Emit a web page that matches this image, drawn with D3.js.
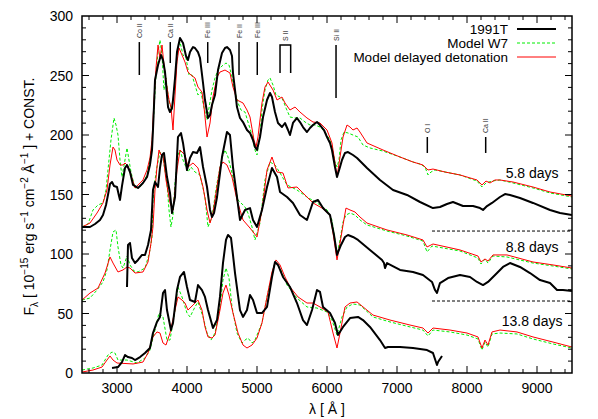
<!DOCTYPE html>
<html><head><meta charset="utf-8">
<script src="https://cdn.jsdelivr.net/npm/d3@7"></script>
<style>
body{margin:0;background:#fff;}
svg{font-family:"Liberation Sans",Arial,Helvetica,sans-serif;}
</style></head>
<body><svg id="c" width="598" height="419"></svg>
<script>
// ---- data: [wavelength (Å), flux + const] ----
const obs58 = [[2500,122.7],[2614,122.7],[2686,125.2],[2757,128.6],[2800,132.8],[2843,141.2],[2871,149.6],[2900,158.8],[2929,160.5],[2957,157.1],[3000,156.3],[3029,148.7],[3043,145.4],[3071,157.1],[3114,172.3],[3143,174.8],[3186,168.9],[3229,158.0],[3300,155.5],[3371,159.7],[3429,164.7],[3471,174.8],[3500,187.4],[3514,204.2],[3529,225.2],[3543,246.2],[3586,258.8],[3629,267.2],[3657,263.0],[3686,252.9],[3714,233.6],[3729,223.5],[3757,219.3],[3786,222.7],[3800,229.4],[3829,247.9],[3857,269.7],[3900,281.5],[3943,277.3],[3986,266.4],[4014,263.0],[4043,269.7],[4086,273.9],[4114,273.1],[4157,269.7],[4186,264.7],[4229,243.7],[4257,229.4],[4300,214.3],[4329,216.8],[4357,225.2],[4400,233.6],[4443,254.6],[4500,268.9],[4543,273.1],[4571,273.9],[4614,271.4],[4643,266.4],[4657,252.1],[4686,237.8],[4714,223.5],[4757,214.3],[4800,210.9],[4857,204.2],[4900,201.7],[4943,195.8],[4971,189.9],[5000,187.4],[5043,198.3],[5086,215.1],[5143,229.4],[5186,235.3],[5214,231.9],[5257,219.3],[5300,210.1],[5357,206.7],[5400,210.1],[5443,204.2],[5471,200.0],[5514,210.1],[5571,214.3],[5614,210.9],[5657,206.7],[5714,202.5],[5757,205.9],[5800,208.4],[5857,210.9],[5900,208.4],[5957,204.2],[6000,198.3],[6043,193.3],[6071,187.4],[6114,173.1],[6143,164.7],[6186,173.1],[6214,179.0],[6257,184.9],[6300,185.7],[6371,183.2],[6429,180.7],[6571,172.3],[6757,162.2],[6943,153.8],[7143,149.6],[7329,143.7],[7514,138.6],[7614,139.5],[7714,142.0],[7800,143.7],[7943,140.3],[8086,140.3],[8186,138.6],[8229,137.0],[8286,140.3],[8357,142.9],[8471,147.9],[8543,150.4],[8614,149.6],[8757,147.1],[8943,142.9],[9186,137.0],[9329,134.4],[9500,132.8]];
const w7_58 = [[2500,122.7],[2586,125.2],[2657,137.0],[2729,141.2],[2800,142.9],[2843,153.8],[2871,170.6],[2914,195.8],[2957,214.3],[2986,208.4],[3014,200.0],[3043,179.0],[3071,164.7],[3114,179.0],[3143,189.1],[3171,179.0],[3200,168.9],[3257,155.5],[3329,156.3],[3371,159.7],[3429,166.4],[3471,179.0],[3500,191.6],[3529,221.0],[3557,250.4],[3586,269.7],[3614,279.8],[3643,267.2],[3671,237.8],[3700,247.9],[3729,233.6],[3757,225.2],[3786,221.0],[3814,236.1],[3843,254.6],[3871,273.1],[3900,278.1],[3943,267.2],[3986,264.7],[4029,250.4],[4071,250.4],[4114,242.0],[4157,233.6],[4200,236.1],[4243,222.7],[4286,212.6],[4314,222.7],[4357,237.8],[4400,247.9],[4443,254.6],[4500,258.0],[4557,260.5],[4600,258.8],[4643,248.7],[4686,236.1],[4729,226.9],[4771,221.0],[4829,219.3],[4871,210.9],[4929,200.0],[4971,187.4],[5000,183.2],[5043,200.0],[5071,221.0],[5114,237.8],[5157,246.2],[5186,247.9],[5229,242.0],[5271,233.6],[5329,231.9],[5371,229.4],[5414,222.7],[5471,215.1],[5543,214.3],[5614,214.3],[5686,210.9],[5757,208.4],[5829,208.4],[5900,206.7],[5971,202.5],[6043,195.8],[6086,184.9],[6114,177.3],[6143,173.1],[6171,179.0],[6200,195.8],[6243,202.5],[6300,201.7],[6371,200.0],[6443,198.3],[6514,191.6],[6614,189.1],[6800,186.5],[7043,181.5],[7229,177.3],[7329,175.6],[7400,173.1],[7443,166.4],[7486,168.9],[7543,170.6],[7686,168.9],[7900,166.4],[8143,161.3],[8214,156.3],[8271,159.7],[8357,161.3],[8471,162.2],[8657,159.7],[8943,155.5],[9186,151.3],[9500,147.9]];
const dd58 = [[2500,122.7],[2614,126.0],[2714,134.4],[2800,142.9],[2857,153.8],[2900,174.8],[2943,189.9],[2971,187.4],[3000,179.0],[3043,174.8],[3086,174.8],[3114,176.5],[3157,173.9],[3200,166.4],[3257,155.5],[3329,159.7],[3371,162.2],[3429,170.6],[3471,180.7],[3500,195.8],[3529,229.4],[3557,256.3],[3586,275.6],[3614,264.7],[3643,275.6],[3671,258.8],[3714,240.3],[3743,229.4],[3771,223.5],[3800,204.2],[3829,233.6],[3857,261.3],[3886,273.1],[3929,267.2],[3971,261.3],[4014,252.9],[4057,250.4],[4114,247.9],[4157,240.3],[4214,236.1],[4243,223.5],[4286,198.3],[4329,210.1],[4371,231.9],[4429,248.7],[4471,252.9],[4543,254.6],[4614,252.1],[4657,240.3],[4714,229.4],[4800,226.9],[4857,221.0],[4900,215.1],[4957,195.8],[4986,189.9],[5014,198.3],[5071,226.9],[5114,240.3],[5157,244.5],[5229,237.8],[5286,229.4],[5357,231.9],[5400,226.9],[5471,221.0],[5543,223.5],[5614,219.3],[5714,214.3],[5800,210.9],[5900,210.1],[6000,204.2],[6071,193.3],[6114,176.5],[6143,164.7],[6186,181.5],[6229,198.3],[6286,208.4],[6329,206.7],[6371,204.2],[6429,205.9],[6471,202.5],[6571,193.3],[6800,187.4],[7043,181.5],[7229,177.3],[7371,174.8],[7443,170.6],[7514,171.4],[7686,168.9],[7900,166.4],[8143,162.2],[8214,158.0],[8271,161.3],[8329,159.7],[8400,162.2],[8471,162.2],[8657,160.5],[8943,156.3],[9186,152.1],[9500,148.7]];

const obs88 = [[3143,72.3],[3157,107.6],[3186,109.2],[3214,96.6],[3257,92.4],[3300,95.0],[3357,99.2],[3400,99.2],[3443,107.6],[3486,120.2],[3514,153.8],[3543,160.5],[3586,156.3],[3614,172.3],[3643,183.2],[3671,184.9],[3714,164.7],[3757,151.3],[3786,134.4],[3829,147.9],[3871,198.3],[3914,201.7],[3943,193.3],[4000,170.6],[4043,180.7],[4086,185.7],[4143,184.9],[4186,189.9],[4229,173.1],[4286,156.3],[4329,137.0],[4357,131.1],[4386,134.4],[4429,147.9],[4500,181.5],[4571,202.5],[4614,200.0],[4657,173.1],[4714,147.9],[4757,128.6],[4829,137.0],[4900,138.6],[4943,128.6],[5000,122.7],[5071,137.0],[5143,156.3],[5214,172.3],[5286,164.7],[5329,152.1],[5429,147.9],[5514,142.9],[5614,132.8],[5714,128.6],[5800,143.7],[5871,145.4],[5943,138.6],[6043,132.8],[6100,116.0],[6143,99.2],[6200,107.6],[6257,114.3],[6300,116.0],[6371,114.3],[6443,111.8],[6614,103.4],[6786,95.0],[6814,92.4],[6829,88.2],[6857,92.4],[7043,86.6],[7229,84.9],[7371,82.3],[7500,76.5],[7543,69.7],[7571,67.2],[7614,75.6],[7729,79.8],[7900,82.3],[8043,80.7],[8143,76.5],[8229,73.9],[8300,76.5],[8429,84.0],[8514,89.1],[8614,92.4],[8757,89.1],[8900,84.0],[9043,78.1],[9186,75.6],[9286,69.7],[9371,69.7],[9500,68.9]];
const w7_88 = [[2500,61.3],[2614,63.0],[2714,69.7],[2800,76.5],[2857,86.6],[2900,103.4],[2943,118.5],[2986,120.2],[3014,105.9],[3057,90.8],[3086,88.2],[3143,98.3],[3186,90.8],[3243,85.7],[3300,84.9],[3400,88.2],[3443,96.6],[3471,103.4],[3500,114.3],[3514,145.4],[3543,162.2],[3571,173.1],[3614,185.7],[3657,180.7],[3714,159.7],[3743,137.0],[3771,122.7],[3800,132.8],[3829,159.7],[3871,183.2],[3900,187.4],[3943,179.0],[4014,168.9],[4057,173.1],[4114,168.9],[4186,166.4],[4257,147.9],[4300,122.7],[4357,131.1],[4429,159.7],[4500,180.7],[4543,187.4],[4586,181.5],[4657,164.7],[4729,145.4],[4829,139.5],[4871,134.4],[4929,122.7],[4971,111.8],[5043,126.0],[5114,162.2],[5186,177.3],[5257,174.8],[5329,168.1],[5429,158.0],[5571,153.8],[5714,147.9],[5857,142.9],[6000,137.0],[6071,128.6],[6114,111.8],[6143,99.2],[6186,111.8],[6229,126.9],[6271,132.8],[6329,134.4],[6400,132.8],[6471,128.6],[6571,124.4],[6857,119.3],[7143,115.1],[7371,110.9],[7429,101.7],[7500,106.7],[7900,102.5],[8157,96.6],[8200,91.6],[8257,95.8],[8300,92.4],[8371,98.3],[8571,97.5],[8943,92.4],[9229,89.9],[9500,87.4]];
const dd88 = [[2500,61.3],[2614,67.2],[2729,71.4],[2829,84.0],[2900,97.5],[2943,92.4],[3014,84.9],[3086,86.6],[3143,89.1],[3186,88.2],[3257,84.0],[3371,84.9],[3443,93.3],[3486,109.2],[3514,122.7],[3543,153.8],[3571,173.1],[3600,187.4],[3629,183.2],[3657,183.2],[3700,162.2],[3757,142.9],[3800,137.0],[3829,153.8],[3857,170.6],[3900,187.4],[3971,183.2],[4014,173.1],[4086,176.5],[4157,172.3],[4229,156.3],[4286,137.0],[4329,126.0],[4371,134.4],[4471,173.1],[4514,177.3],[4571,174.8],[4643,164.7],[4714,145.4],[4800,128.6],[4900,121.8],[5000,114.3],[5071,137.0],[5143,170.6],[5214,181.5],[5286,168.9],[5371,168.1],[5443,155.5],[5571,156.3],[5714,147.9],[5800,142.9],[5929,138.6],[6043,132.8],[6086,117.6],[6143,95.0],[6186,109.2],[6229,124.4],[6271,138.6],[6329,137.0],[6400,135.3],[6471,131.1],[6571,126.0],[6857,120.2],[7143,116.0],[7371,111.8],[7429,105.9],[7514,108.4],[7900,103.4],[8157,98.3],[8200,93.3],[8257,95.8],[8300,94.1],[8371,99.2],[8571,99.2],[8943,93.3],[9229,90.8],[9500,88.2]];

const obs138 = [[2929,4.2],[3014,5.0],[3071,9.2],[3114,15.1],[3157,13.4],[3214,12.6],[3257,10.9],[3329,13.4],[3400,16.8],[3471,21.0],[3514,33.6],[3571,42.9],[3614,47.1],[3657,67.2],[3686,69.7],[3714,52.9],[3771,36.1],[3800,42.0],[3857,69.7],[3900,80.7],[3957,84.9],[4000,72.3],[4043,61.3],[4114,59.7],[4157,73.9],[4214,69.7],[4257,63.9],[4300,52.9],[4371,37.8],[4429,44.5],[4471,63.9],[4514,92.4],[4557,111.8],[4586,116.0],[4629,113.4],[4657,99.2],[4686,84.0],[4757,52.9],[4800,47.1],[4857,52.9],[4900,65.5],[4943,61.3],[5000,50.4],[5071,50.4],[5143,55.5],[5214,80.7],[5257,93.3],[5300,90.8],[5371,80.7],[5471,72.3],[5571,58.8],[5657,44.5],[5714,40.3],[5786,52.9],[5857,69.7],[5900,68.1],[5943,55.5],[6043,50.4],[6114,42.0],[6157,31.9],[6229,38.7],[6329,46.2],[6443,47.1],[6514,44.5],[6614,38.7],[6757,27.7],[6829,21.0],[6871,21.8],[7043,21.8],[7229,21.0],[7429,19.3],[7514,16.8],[7571,6.7],[7586,9.2],[7643,14.3]];
const w7_138 = [[2500,2.5],[2657,4.2],[2786,6.7],[2871,15.1],[2929,17.6],[2971,16.8],[3014,10.9],[3143,10.9],[3286,8.4],[3400,12.6],[3471,19.3],[3543,36.1],[3600,50.4],[3657,47.1],[3714,27.7],[3757,27.7],[3814,47.1],[3871,72.3],[3929,63.9],[4000,50.4],[4043,47.1],[4114,55.5],[4157,59.7],[4229,47.1],[4286,33.6],[4343,27.7],[4400,33.6],[4471,55.5],[4514,78.1],[4557,88.2],[4600,79.8],[4643,55.5],[4714,33.6],[4786,25.2],[4829,27.7],[4871,29.4],[4929,25.2],[4971,27.7],[5071,42.0],[5143,63.9],[5214,82.3],[5257,93.3],[5329,88.2],[5429,73.9],[5571,63.0],[5714,55.5],[5857,54.6],[6000,51.3],[6071,44.5],[6143,31.9],[6214,47.1],[6286,55.5],[6371,58.0],[6471,57.1],[6657,47.1],[6900,42.9],[7186,38.7],[7371,36.1],[7443,31.1],[7514,36.1],[7757,34.5],[8000,31.9],[8157,28.6],[8214,19.3],[8257,26.0],[8300,21.8],[8357,32.8],[8471,33.6],[8714,32.8],[8943,28.6],[9229,24.4],[9500,21.0]];
const dd138 = [[2500,0.8],[2657,2.5],[2786,5.0],[2857,10.9],[2900,14.3],[2943,10.9],[3000,8.4],[3229,7.6],[3371,9.2],[3443,16.8],[3514,30.3],[3571,34.5],[3614,33.6],[3657,25.2],[3700,23.5],[3757,33.6],[3829,52.9],[3871,63.9],[3929,61.3],[3971,58.8],[4014,52.9],[4086,57.1],[4157,61.3],[4214,52.9],[4257,38.7],[4300,30.3],[4357,29.4],[4400,31.9],[4471,52.9],[4514,67.2],[4557,73.9],[4600,65.5],[4657,50.4],[4729,33.6],[4800,23.5],[4857,21.0],[4929,23.5],[5000,29.4],[5071,42.0],[5143,63.9],[5214,84.9],[5271,95.0],[5329,90.8],[5400,80.7],[5471,72.3],[5586,63.9],[5714,58.8],[5800,58.8],[5900,55.5],[6014,51.3],[6086,33.6],[6143,21.0],[6186,33.6],[6257,55.5],[6329,58.8],[6429,59.7],[6657,48.7],[6900,44.5],[7186,40.3],[7371,37.8],[7443,33.6],[7514,37.8],[7757,36.1],[8000,33.6],[8157,30.3],[8214,21.0],[8257,27.7],[8300,23.5],[8357,34.5],[8471,36.1],[8714,34.5],[8943,30.3],[9229,26.0],[9500,21.8]];

// line identifications: label, wavelength, lower and upper flux of the bar
const ionLabels = ["Co II","Ca II","Fe III","Fe II","Fe III","Si II","O I","Ca II"];
const ionWave   = [3319, 3761, 4296, 4743, 5004, 6129, 7433, 8267];
const ionLow    = [250.4, 260.5, 260.5, 250.4, 250.4, 231.1, 184.9, 184.9];
const ionHigh   = [278.1, 278.1, 278.1, 278.1, 278.1, 275.6, 198.3, 198.3];
const sIIWave   = [5329, 5481];   // S II bracket
const sIIFlux   = [252.1, 275.6];

const epochLabels = ["5.8 days","8.8 days","13.8 days"];
const epochPos    = [[8930,163.5],[8930,102],[8930,39.5]];
const separators  = [119.3, 60.5];   // dashed lines between epochs
const sepStart    = 7500;

const xTicks = [3000,4000,5000,6000,7000,8000,9000];
const yTicks = [0,50,100,150,200,250,300];
const legendNames = ["1991T","Model W7","Model delayed detonation"];

// ---- drawing ----
const svg = d3.select("#c");
const M = {l:82, r:572, t:16, b:373};
const x = d3.scaleLinear().domain([2500,9500]).range([M.l,M.r]);
const y = d3.scaleLinear().domain([0,300]).range([M.b,M.t]);

svg.append("defs").append("clipPath").attr("id","clip")
  .append("rect").attr("x",M.l).attr("y",M.t).attr("width",M.r-M.l).attr("height",M.b-M.t);

const line = d3.line().x(d=>x(d[0])).y(d=>y(d[1]));
const gp = svg.append("g").attr("clip-path","url(#clip)");

const styles = {
  obs:{stroke:"#000",w:2,dash:null},
  w7:{stroke:"#00ee00",w:1,dash:"3,2"},
  dd:{stroke:"#ff0000",w:1,dash:null}
};
function draw(data, s){
  gp.append("path").datum(data).attr("d",line).attr("fill","none")
    .attr("stroke",s.stroke).attr("stroke-width",s.w)
    .attr("stroke-dasharray",s.dash).attr("stroke-linejoin","round");
}
[[obs138,w7_138,dd138],[obs88,w7_88,dd88],[obs58,w7_58,dd58]].forEach(set=>{
  draw(set[1],styles.w7); draw(set[2],styles.dd); draw(set[0],styles.obs);
});

// separators
separators.forEach(v=>{
  svg.append("line").attr("x1",x(sepStart)).attr("x2",x(9500)).attr("y1",y(v)).attr("y2",y(v))
    .attr("stroke","#000").attr("stroke-width",1).attr("stroke-dasharray","3,2");
});

// epoch labels
epochLabels.forEach((t,i)=>{
  svg.append("text").attr("x",x(epochPos[i][0])).attr("y",y(epochPos[i][1]))
    .attr("text-anchor","middle").attr("font-size",14).text(t);
});

// ion markers
ionLabels.forEach((t,i)=>{
  const xx = x(ionWave[i]);
  svg.append("line").attr("x1",xx).attr("x2",xx).attr("y1",y(ionLow[i])).attr("y2",y(ionHigh[i]))
    .attr("stroke","#000").attr("stroke-width",1.5);
  svg.append("text").attr("transform",`translate(${xx+2.5},${y(ionHigh[i])-4}) rotate(-90)`)
    .attr("font-size",7).attr("fill","#333").text(t);
});
{
  const x1=x(sIIWave[0]), x2=x(sIIWave[1]), yb=y(sIIFlux[0]), yt=y(sIIFlux[1]);
  svg.append("path").attr("d",`M${x1},${yb}V${yt}H${x2}V${yb}`).attr("fill","none")
    .attr("stroke","#000").attr("stroke-width",1.5);
  svg.append("text").attr("transform",`translate(${(x1+x2)/2+2.5},${yt-4}) rotate(-90)`)
    .attr("font-size",7).attr("fill","#333").text("S II");
}

// frame
svg.append("rect").attr("x",M.l).attr("y",M.t).attr("width",M.r-M.l).attr("height",M.b-M.t)
  .attr("fill","none").attr("stroke","#000").attr("stroke-width",1.5);

// ticks (inward, mirrored)
const tg = svg.append("g").attr("stroke","#000").attr("stroke-width",1);
d3.range(2600,9500,200).forEach(v=>{
  const major = v%1000===0; const L = major?7:4; const xx=x(v);
  tg.append("line").attr("x1",xx).attr("x2",xx).attr("y1",M.b).attr("y2",M.b-L);
  tg.append("line").attr("x1",xx).attr("x2",xx).attr("y1",M.t).attr("y2",M.t+L);
});
d3.range(10,300,10).forEach(v=>{
  const major = v%50===0; const L = major?7:4; const yy=y(v);
  tg.append("line").attr("x1",M.l).attr("x2",M.l+L).attr("y1",yy).attr("y2",yy);
  tg.append("line").attr("x1",M.r).attr("x2",M.r-L).attr("y1",yy).attr("y2",yy);
});
xTicks.forEach(v=>{
  svg.append("text").attr("x",x(v)).attr("y",M.b+20).attr("text-anchor","middle")
    .attr("font-size",14).text(v);
});
yTicks.forEach(v=>{
  svg.append("text").attr("x",M.l-9).attr("y",y(v)+5).attr("text-anchor","end")
    .attr("font-size",14).text(v);
});

// axis titles
svg.append("text").attr("x",(M.l+M.r)/2).attr("y",414).attr("text-anchor","middle")
  .attr("font-size",14).text("λ  [ Å ]");
const yl = svg.append("text").attr("transform",`translate(34,${(M.t+M.b)/2+2}) rotate(-90)`)
  .attr("text-anchor","middle").attr("font-size",14);
yl.append("tspan").text("F");
yl.append("tspan").attr("font-size",10).attr("dy",4).text("λ");
yl.append("tspan").attr("dy",-4).text("  [ 10");
yl.append("tspan").attr("font-size",10).attr("dy",-6).text("−15");
yl.append("tspan").attr("dy",6).text(" erg s");
yl.append("tspan").attr("font-size",10).attr("dy",-6).text("−1");
yl.append("tspan").attr("dy",6).text(" cm");
yl.append("tspan").attr("font-size",10).attr("dy",-6).text("−2");
yl.append("tspan").attr("dy",6).text(" Å");
yl.append("tspan").attr("font-size",10).attr("dy",-6).text("−1");
yl.append("tspan").attr("dy",6).text(" ] + CONST.");

// legend
const legS = [styles.obs, styles.w7, styles.dd];
legendNames.forEach((n,i)=>{
  const yy = 29 + i*14;
  svg.append("text").attr("x",508).attr("y",yy+4.5).attr("text-anchor","end")
    .attr("font-size",13.5).text(n);
  svg.append("line").attr("x1",517).attr("x2",556).attr("y1",yy).attr("y2",yy)
    .attr("stroke",legS[i].stroke).attr("stroke-width",legS[i].w)
    .attr("stroke-dasharray",legS[i].dash);
});
</script></body></html>
